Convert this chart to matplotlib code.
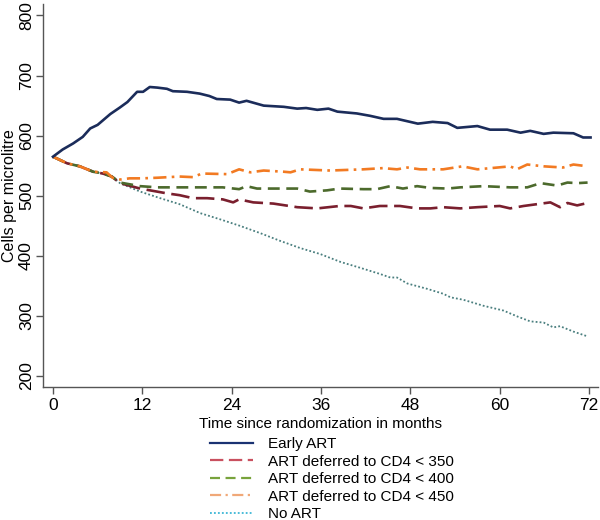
import matplotlib
matplotlib.use('Agg')
import matplotlib.pyplot as plt
from matplotlib.lines import Line2D

plt.rcParams['font.family'] = ['Liberation Sans', 'DejaVu Sans']

# months since randomization and mean CD4 (cells per microlitre)
early_m = [0, 1.3, 2.7, 4, 5, 6, 7.7, 9, 10, 11.3, 12.1, 13, 14, 15.3, 16.1, 18, 19.7, 21, 22,
           23.8, 25, 26, 28.3, 31, 32.8, 34, 35.5, 37, 38.2, 40.8, 42.6, 44.4, 46.2, 47.6, 49,
           51, 53, 54.3, 57, 58.7, 61, 62.8, 64.1, 65.9, 67.2, 69.9, 71.2, 72.2]
early_v = [565, 577, 587, 598, 612, 618, 636, 647, 656, 673, 673, 681, 680, 678, 674, 673, 670,
           666, 661, 660, 655, 658, 650, 648, 645, 646, 643, 645, 640, 637, 633, 628, 628, 624,
           620, 623, 621, 613, 616, 610, 610, 605, 608, 603, 605, 604, 597, 597]

d350_m = [0, 1.9, 3.6, 5.4, 6.7, 7.9, 9, 11.7, 15.3, 17, 18.8, 20.7, 22.8, 24.2, 25, 26.9, 29.6,
          32.8, 35.5, 38.5, 40, 41.7, 43.9, 46.6, 48.9, 50.7, 52.4, 54.7, 57, 60, 61.4, 63.2,
          65, 66.8, 68.1, 69.1, 70.4, 71.8]
d350_v = [565, 554, 549, 540, 537, 532, 521, 512, 504, 501, 496, 496, 494, 489, 494, 489, 487,
          481, 479, 483, 483, 479, 483, 483, 479, 479, 481, 479, 481, 483, 479, 483, 486, 489,
          481, 488, 484, 488]

d400_m = [0, 1.9, 3.6, 5.4, 6.7, 7.9, 9, 11.7, 14, 17, 20.7, 22.8, 25, 26, 27.4, 29.6, 32.8,
          34.5, 36.8, 38.5, 41.7, 43.5, 45.3, 47, 48.9, 50.7, 53, 54.7, 57.8, 61.4, 63.7, 65.5,
          67.7, 69.1, 70.4, 71.8]
d400_v = [565, 554, 549, 540, 537, 532, 522, 516, 514, 514, 514, 514, 511, 516, 512, 512, 512,
          507, 509, 512, 511, 511, 516, 512, 516, 513, 512, 514, 516, 514, 514, 521, 517, 522,
          521, 522]

d450_m = [0, 1.9, 3.6, 5.4, 7.2, 8, 9, 10.3, 12, 14, 17, 18.8, 20, 23.4, 25, 26.5, 28.3, 31,
          31.9, 33.2, 37.2, 41.7, 44.3, 46.2, 47.6, 49.3, 52.4, 55, 57, 59.7, 61.4, 62.3, 63.7,
          65.9, 68.5, 69.9, 71.8]
d450_v = [565, 554, 549, 540, 539, 530, 527, 529, 529, 530, 532, 531, 537, 536, 544, 539, 542,
          540, 539, 544, 542, 544, 546, 544, 547, 544, 544, 549, 544, 547, 549, 544, 552, 549,
          547, 552, 549]

noart_m = [0, 1.9, 3.6, 5.4, 6.7, 7.9, 9, 11.7, 14.4, 17, 19.8, 22.4, 25.1, 27.8, 30.5, 33.2,
           35.9, 38.6, 41.3, 43.9, 45.3, 46.2, 47.6, 50.3, 52.4, 53.4, 55.1, 57.8, 60.5, 62.4,
           64.1, 65.9, 67.2, 68.1, 69.9, 71.8]
noart_v = [565, 554, 549, 540, 537, 532, 521, 507, 496, 486, 471, 461, 450, 438, 425, 413, 403,
           390, 380, 370, 364, 364, 354, 345, 337, 331, 327, 317, 309, 299, 291, 289, 281, 283,
           274, 266]

labels = ['Early ART', 'ART deferred to CD4 < 350', 'ART deferred to CD4 < 400',
          'ART deferred to CD4 < 450', 'No ART']

fig = plt.figure(figsize=(6, 5.2), dpi=100)
ax = fig.add_axes([43 / 600, 1 - 387 / 520, 555 / 600, 383 / 520])

ax.plot(noart_m, noart_v, color='#4a7f7f', lw=1.3, linestyle=(0, (1, 1.2)))
ax.plot(d350_m, d350_v, color='#7a1f2e', lw=1.9, linestyle=(0, (7, 2.5)))
ax.plot(d400_m, d400_v, color='#4c6a2c', lw=1.9, linestyle=(0, (4.5, 2.5)))
ax.plot(d450_m, d450_v, color='#f27a22', lw=1.9, linestyle=(0, (5, 2, 1, 2)))
ax.plot(early_m, early_v, color='#1b2c5a', lw=1.9)

ax.set_xlim(-1.34, 73.2)
ax.set_ylim(181.8, 819.1)
ax.set_xticks(range(0, 73, 12))
ax.set_yticks(range(200, 801, 100))
for s in ['top', 'right']:
    ax.spines[s].set_visible(False)
for s in ['left', 'bottom']:
    ax.spines[s].set_color('#555555')
    ax.spines[s].set_linewidth(1.0)
ax.tick_params(axis='both', colors='#555555', labelcolor='black', length=5, width=1,
               labelsize=12.5)
ax.tick_params(axis='x', pad=3)
ax.tick_params(axis='y', pad=1.5)
plt.setp(ax.get_yticklabels(), rotation=90, va='center')
ax.set_xlabel('Time since randomization in months', fontsize=11, labelpad=2.5)
ax.set_ylabel('Cells per microlitre', fontsize=11.5, labelpad=1.5)

handles = [
    Line2D([], [], color='#1a3272', lw=1.6),
    Line2D([], [], color='#c9505f', lw=1.6, linestyle=(0, (6, 2.5))),
    Line2D([], [], color='#78a33c', lw=1.6, linestyle=(0, (4.5, 2.5))),
    Line2D([], [], color='#f0a878', lw=1.6, linestyle=(0, (5, 2, 1, 2))),
    Line2D([], [], color='#3cb6d6', lw=1.3, linestyle=(0, (1, 1.2))),
]
fig.legend(handles, labels, loc='upper left', bbox_to_anchor=(210 / 600, 1 - 437 / 520),
           frameon=False, fontsize=11, handlelength=2.8, handletextpad=1.0,
           labelspacing=0.23, borderpad=0, borderaxespad=0)

plt.savefig('out.png', dpi=100)
